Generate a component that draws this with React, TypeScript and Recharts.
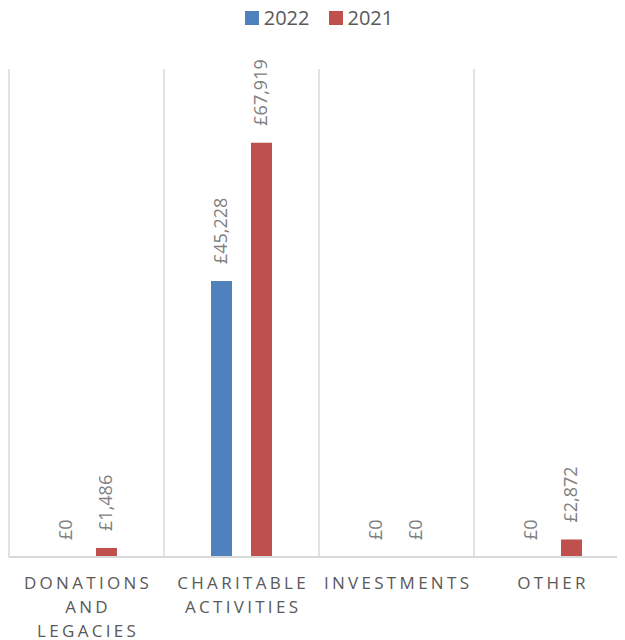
import React from 'react';
import {
    BarChart,
    Bar,
    XAxis,
    YAxis,
    CartesianGrid,
    Legend,
    Rectangle
} from 'recharts';

// Category keys and the broken-up tick labels shown under the axis
const categories = ['Donations and legacies', 'Charitable activities', 'Investments', 'Other'];
const tickLines = [
    ['DONATIONS', 'AND', 'LEGACIES'],
    ['CHARITABLE', 'ACTIVITIES'],
    ['INVESTMENTS'],
    ['OTHER']
];

// Series values (GBP)
const values2022 = [0, 45228, 0, 0];
const values2021 = [1486, 67919, 0, 2872];

const seriesNames = ['2022', '2021'];
const colors = ['#4f81bd', '#c0504d'];

const FONT = '"Open Sans", "Liberation Sans", sans-serif';

const data = categories.map((name, i) => ({
    name,
    y2022: values2022[i],
    y2021: values2021[i]
}));

const formatGBP = (v: number) => '£' + v.toLocaleString('en-GB');

// Bar rectangle plus a rotated value label just above its top
// (drawn in the shape so that zero-height bars still get their "£0")
const BarWithLabel = (props: any) => {
    const { x, y, width, height, fill, value } = props;
    const cx = Number(x) + Number(width) / 2;
    const ty = Number(y) - 17;
    const v = Array.isArray(value) ? value[1] - value[0] : Number(value);
    return (
        <g>
            {height > 0 && <Rectangle x={x} y={y} width={width} height={height} fill={fill} />}
            <text
                x={cx}
                y={ty}
                dy="0.3em"
                transform={`rotate(-90, ${cx}, ${ty})`}
                textAnchor="start"
                fill="#808080"
                fontSize={18}
                fontFamily={FONT}
            >
                {formatGBP(v)}
            </text>
        </g>
    );
};

const CategoryTick = (props: any) => {
    const { x, y, payload } = props;
    const lines = tickLines[payload.index] || [String(payload.value)];
    return (
        <g>
            {lines.map((line, i) => (
                <text
                    key={i}
                    x={x + 1.6}
                    y={y + 24 + i * 24}
                    textAnchor="middle"
                    fill="#595959"
                    fontSize={17}
                    letterSpacing={3.3}
                    fontFamily={FONT}
                >
                    {line}
                </text>
            ))}
        </g>
    );
};

const LegendContent = () => (
    <div
        style={{
            display: 'flex',
            justifyContent: 'center',
            alignItems: 'center',
            height: 20,
            fontFamily: FONT,
            fontSize: 20,
            color: '#595959',
            lineHeight: '20px'
        }}
    >
        {seriesNames.map((name, i) => (
            <div key={name} style={{ display: 'flex', alignItems: 'center', marginRight: i === 0 ? 19 : 0 }}>
                <span style={{ width: 14, height: 14, background: colors[i], display: 'inline-block', marginRight: 5 }} />
                <span>{name}</span>
            </div>
        ))}
    </div>
);

// Vertical separators at the category band edges
const bandEdges = ({ offset }: any) => {
    const step = offset.width / categories.length;
    return categories.map((_, i) => offset.left + i * step).concat(offset.left + offset.width);
};

export default function App() {
    return (
        <BarChart
            width={622}
            height={632}
            data={data}
            margin={{ top: 41, right: 1, bottom: 0, left: 1 }}
            barGap={19}
            barSize={21}
        >
            <CartesianGrid
                horizontal={false}
                vertical={true}
                stroke="#d9d9d9"
                strokeWidth={1.5}
                verticalCoordinatesGenerator={bandEdges}
            />
            <XAxis
                dataKey="name"
                axisLine={{ stroke: '#d9d9d9', strokeWidth: 2 }}
                tickLine={false}
                tick={<CategoryTick />}
                interval={0}
                height={83}
            />
            <YAxis hide domain={[0, 80000]} />
            <Legend
                verticalAlign="top"
                height={20}
                content={<LegendContent />}
                wrapperStyle={{ top: 0 }}
            />
            <Bar
                dataKey="y2022"
                name={seriesNames[0]}
                fill={colors[0]}
                shape={<BarWithLabel />}
                isAnimationActive={false}
            />
            <Bar
                dataKey="y2021"
                name={seriesNames[1]}
                fill={colors[1]}
                shape={<BarWithLabel />}
                isAnimationActive={false}
            />
        </BarChart>
    );
}
